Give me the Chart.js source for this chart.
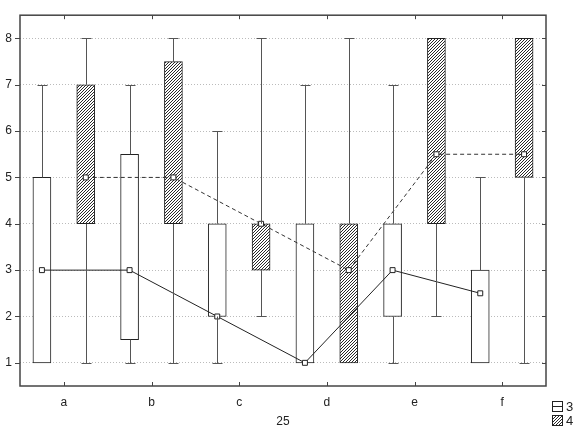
<!DOCTYPE html>
<html>
<head>
<meta charset="utf-8">
<script src="https://cdn.jsdelivr.net/npm/chart.js@4.4.0/dist/chart.umd.min.js"></script>
<style>
  body { margin: 0; background: #fff; }
  #wrap { width: 580px; height: 435px; }
</style>
</head>
<body>
<div id="wrap"><canvas id="grafico" width="580" height="435"></canvas></div>
<script>
// dados
const categorias = ['a', 'b', 'c', 'd', 'e', 'f'];
const nomesSeries = ['3', '4'];
const tituloX = '25';
const yTicks = [1, 2, 3, 4, 5, 6, 7, 8];

const serie3Min = [1, 1, 1, 1, 1, 1];
const serie3Q1  = [1, 1.5, 2, 1, 2, 1];
const serie3Med = [3, 3, 2, 1, 3, 2.5];
const serie3Q3  = [5, 5.5, 4, 4, 4, 3];
const serie3Max = [7, 7, 6, 7, 7, 5];

const serie4Min = [1, 1, 2, 1, 2, 1];
const serie4Q1  = [4, 4, 3, 1, 4, 5];
const serie4Med = [5, 5, 4, 3, 5.5, 5.5];
const serie4Q3  = [7, 7.5, 4, 4, 8, 8];
const serie4Max = [8, 8, 8, 8, 8, 8];

// deslocamento de cada serie dentro da categoria
const desloc = [-0.25, 0.25];

const fonte = { family: "'Liberation Sans', Arial, sans-serif", size: 12 };

function criarHachura() {
    const c = document.createElement('canvas');
    c.width = 3; c.height = 3;
    const g = c.getContext('2d');
    g.fillStyle = '#fff';
    g.fillRect(0, 0, 3, 3);
    g.strokeStyle = '#111';
    g.lineWidth = 0.9;
    g.beginPath();
    g.moveTo(0, 3); g.lineTo(3, 0);
    g.moveTo(-1, 1); g.lineTo(1, -1);
    g.moveTo(2, 4); g.lineTo(4, 2);
    g.stroke();
    return g.createPattern(c, 'repeat');
}
const hachura = criarHachura();

// bigodes, moldura e legenda
const pluginBoxplot = {
    id: 'boxplot',
    afterDatasetsDraw(chart) {
        const ctx = chart.ctx;
        const y = chart.scales.y;
        const mins = [serie3Min, serie4Min];
        const maxs = [serie3Max, serie4Max];
        const q1s = [serie3Q1, serie4Q1];
        const q3s = [serie3Q3, serie4Q3];

        ctx.save();
        ctx.strokeStyle = '#555';
        ctx.lineWidth = 1;
        for (let d = 0; d < 2; d++) {
            const meta = chart.getDatasetMeta(d + 2);
            for (let i = 0; i < categorias.length; i++) {
                const px = Math.round(meta.data[i].x) + 0.5;
                const yMin = Math.round(y.getPixelForValue(mins[d][i])) + 0.5;
                const yMax = Math.round(y.getPixelForValue(maxs[d][i])) + 0.5;
                const yQ1 = y.getPixelForValue(q1s[d][i]);
                const yQ3 = y.getPixelForValue(q3s[d][i]);
                ctx.beginPath();
                if (mins[d][i] < q1s[d][i]) {
                    ctx.moveTo(px, yQ1); ctx.lineTo(px, yMin);
                    ctx.moveTo(px - 5, yMin); ctx.lineTo(px + 5, yMin);
                }
                if (maxs[d][i] > q3s[d][i]) {
                    ctx.moveTo(px, yQ3); ctx.lineTo(px, yMax);
                    ctx.moveTo(px - 5, yMax); ctx.lineTo(px + 5, yMax);
                }
                ctx.stroke();
            }
        }
        ctx.restore();
    },
    afterDraw(chart) {
        const ctx = chart.ctx;
        const y = chart.scales.y;
        const x = chart.scales.x;
        const a = chart.chartArea;
        ctx.save();
        ctx.strokeStyle = '#444';
        ctx.lineWidth = 1.5;
        ctx.strokeRect(a.left, a.top, a.right - a.left, a.bottom - a.top);
        ctx.lineWidth = 1;
        ctx.beginPath();
        yTicks.forEach(v => {
            const py = Math.round(y.getPixelForValue(v)) + 0.5;
            ctx.moveTo(a.left - 5, py); ctx.lineTo(a.left, py);
            ctx.moveTo(a.right - 4, py); ctx.lineTo(a.right, py);
        });
        categorias.forEach((c, i) => {
            const px = Math.round(x.getPixelForValue(i)) + 0.5;
            ctx.moveTo(px, a.bottom); ctx.lineTo(px, a.bottom - 4);
            ctx.moveTo(px, a.top); ctx.lineTo(px, a.top + 4);
        });
        ctx.stroke();

        // legenda
        ctx.font = "13px 'Liberation Sans', Arial, sans-serif";
        ctx.textBaseline = 'middle';
        const lx = 552, ly = [401, 415];
        for (let k = 0; k < 2; k++) {
            ctx.fillStyle = k === 0 ? '#fff' : hachura;
            ctx.fillRect(lx, ly[k], 10, 10);
            ctx.strokeStyle = '#222';
            ctx.strokeRect(lx + 0.5, ly[k] + 0.5, 10, 10);
            if (k === 0) {
                ctx.beginPath();
                ctx.moveTo(lx, ly[k] + 5.5); ctx.lineTo(lx + 11, ly[k] + 5.5);
                ctx.stroke();
            }
            ctx.fillStyle = '#222';
            ctx.fillText(nomesSeries[k], lx + 14, ly[k] + 6);
        }
        ctx.restore();
    }
};

function montarGrafico() {
    const ctx = document.getElementById('grafico');
    new Chart(ctx, {
        type: 'bar',
        data: {
            datasets: [
                {
                    type: 'line',
                    label: nomesSeries[0] + ' mediana',
                    data: serie3Med.map((v, i) => ({ x: i + desloc[0], y: v })),
                    borderColor: '#222',
                    borderWidth: 1,
                    pointStyle: 'rect',
                    pointRadius: 3.5,
                    pointBackgroundColor: '#fff',
                    pointBorderColor: '#222',
                    pointBorderWidth: 1,
                    order: 0
                },
                {
                    type: 'line',
                    label: nomesSeries[1] + ' mediana',
                    data: serie4Med.map((v, i) => ({ x: i + desloc[1], y: v })),
                    borderColor: '#333',
                    borderWidth: 1,
                    borderDash: [4, 3],
                    pointStyle: 'rect',
                    pointRadius: 3.5,
                    pointBackgroundColor: '#fff',
                    pointBorderColor: '#222',
                    pointBorderWidth: 1,
                    order: 0
                },
                {
                    label: nomesSeries[0],
                    data: serie3Q1.map((v, i) => ({ x: i + desloc[0], y: [v, serie3Q3[i]] })),
                    backgroundColor: '#fff',
                    borderColor: '#222',
                    borderWidth: 1,
                    borderSkipped: false,
                    grouped: false,
                    barThickness: 18,
                    order: 1
                },
                {
                    label: nomesSeries[1],
                    data: serie4Q1.map((v, i) => ({ x: i + desloc[1], y: [v, serie4Q3[i]] })),
                    backgroundColor: hachura,
                    borderColor: '#222',
                    borderWidth: 1,
                    borderSkipped: false,
                    grouped: false,
                    barThickness: 18,
                    order: 1
                }
            ]
        },
        options: {
            responsive: false,
            animation: false,
            devicePixelRatio: 1,
            layout: { padding: { top: 14, right: 34, left: 0, bottom: 0 } },
            plugins: {
                legend: { display: false },
                tooltip: { enabled: false }
            },
            scales: {
                x: {
                    type: 'linear',
                    min: -0.5,
                    max: 5.5,
                    offset: false,
                    afterBuildTicks(scale) { scale.ticks = categorias.map((c, i) => ({ value: i })); },
                    grid: { display: false, drawTicks: false, offset: false },
                    border: { display: false },
                    ticks: {
                        color: '#222', font: fonte, padding: 9, autoSkip: false, maxRotation: 0,
                        callback: (v) => categorias[v]
                    },
                    title: { display: true, text: tituloX, color: '#222', font: fonte, padding: { top: 0, bottom: 6 } },
                    afterFit(scale) { scale.height = 49; }
                },
                y: {
                    min: 0.5,
                    max: 8.5,
                    afterBuildTicks(scale) { scale.ticks = yTicks.map(v => ({ value: v })); },
                    grid: { color: '#bbb', drawTicks: false },
                    border: { display: false, dash: [1, 2] },
                    ticks: { color: '#222', font: fonte, padding: 8 },
                    afterFit(scale) { scale.width = 20; }
                }
            }
        },
        plugins: [pluginBoxplot]
    });
}

montarGrafico();
</script>
</body>
</html>
